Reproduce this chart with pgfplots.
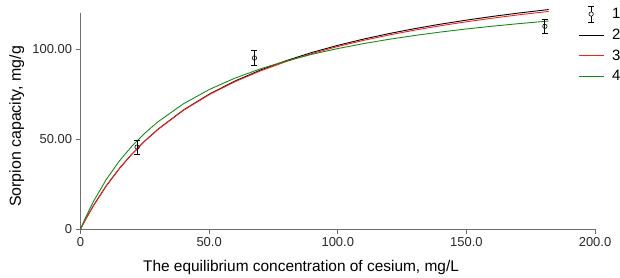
\documentclass[border=0pt]{standalone}
\usepackage{pgfplots}
\pgfplotsset{compat=1.18}
\usepackage{fontspec}
\setmainfont{Liberation Sans}
\definecolor{axgray}{RGB}{110,110,110}
\definecolor{txt}{RGB}{40,40,40}
\definecolor{cred}{RGB}{255,30,30}
\definecolor{cgreen}{RGB}{20,140,20}
\begin{document}
\begin{tikzpicture}[x=1bp,y=1bp]
\useasboundingbox (0,0) rectangle (620,277);
\begin{axis}[
  at={(80.5bp,48bp)}, anchor=south west,
  scale only axis, width=514.5bp, height=216bp,
  xmin=0, xmax=200, ymin=0, ymax=120, clip=false,
  axis x line*=bottom, axis y line*=left,
  axis line style={axgray, line width=1pt},
  tick style={axgray, line width=1pt},
  tick align=outside, major tick length=5bp,
  xtick={0,50,100,150,200}, xticklabels={0,50.0,100.0,150.0,200.0},
  ytick={0,50,100}, yticklabels={0,50.00,100.00},
  ticklabel style={font=\fontsize{13}{15}\selectfont, text=txt},
  /pgf/number format/assume math mode=true,
  xlabel={The equilibrium concentration of cesium, mg/L},
  ylabel={Sorpion capacity, mg/g},
  xlabel style={font=\fontsize{15.5}{17}\selectfont, text=black,
    at={(axis description cs:0.4286,0)}, anchor=base, yshift=-42.7bp},
  ylabel style={font=\fontsize{16}{18}\selectfont, text=black,
    at={(axis description cs:0,0.4745)}, anchor=base, yshift=59.5bp},
  legend style={at={(rel axis cs:0.967,1.035)}, anchor=north west, draw=none, fill=none,
    font=\fontsize{15}{17}\selectfont, row sep=4.8bp, inner sep=0pt,
    nodes={inner xsep=8bp}},
  legend cell align=left,
  legend image code/.code={\draw[#1] (0bp,0bp) -- (25bp,0bp);},
]
\addlegendimage{legend image code/.code={
   \draw[black, line width=0.8pt] (12.5bp,-8bp)--(12.5bp,8bp);
   \draw[black, line width=0.8pt] (9.5bp,-8bp)--(15.5bp,-8bp);
   \draw[black, line width=0.8pt] (9.5bp,8bp)--(15.5bp,8bp);
   \draw[black, fill=white, line width=0.6pt] (12.5bp,0bp) circle (2.2bp);
}}
\addlegendentry{1}
\addplot[black, line width=0.9pt] table {
x y
0 0
2 5.44
5 12.94
10 23.95
15 33.42
20 41.66
25 48.89
30 55.29
40 66.10
50 74.89
60 82.18
70 88.32
80 93.55
90 98.08
100 102.03
110 105.50
120 108.59
130 111.34
140 113.81
150 116.04
160 118.07
170 119.92
182 121.93
};
\addlegendentry{2}
\addplot[cred, line width=0.9pt] table {
x y
0 0
2 5.46
5 12.98
10 23.99
15 33.44
20 41.65
25 48.85
30 55.20
40 65.93
50 74.62
60 81.82
70 87.87
80 93.03
90 97.49
100 101.37
110 104.78
120 107.81
130 110.51
140 112.93
150 115.12
160 117.11
170 118.92
182 120.89
};
\addlegendentry{3}
\addplot[cgreen, line width=0.9pt] table {
x y
0 0
2 6.50
5 15.21
10 27.48
15 37.59
20 46.05
25 53.25
30 59.44
40 69.55
50 77.45
60 83.80
70 89.01
80 93.37
90 97.06
100 100.24
110 102.99
120 105.40
130 107.53
140 109.43
150 111.13
160 112.66
170 114.04
182 115.55
};
\addlegendentry{4}
\addplot[black, only marks, mark=o, mark size=2.2bp, mark options={fill=white, line width=0.6pt},
  error bars/.cd, y dir=both, y explicit, error mark options={rotate=90, mark size=3bp, line width=0.8pt},
  error bar style={line width=0.8pt}] table[y error=e] {
x y e
22 45.5 3.9
67.6 95.0 4.3
180.5 112.6 4.0
};
\end{axis}
\end{tikzpicture}
\end{document}
